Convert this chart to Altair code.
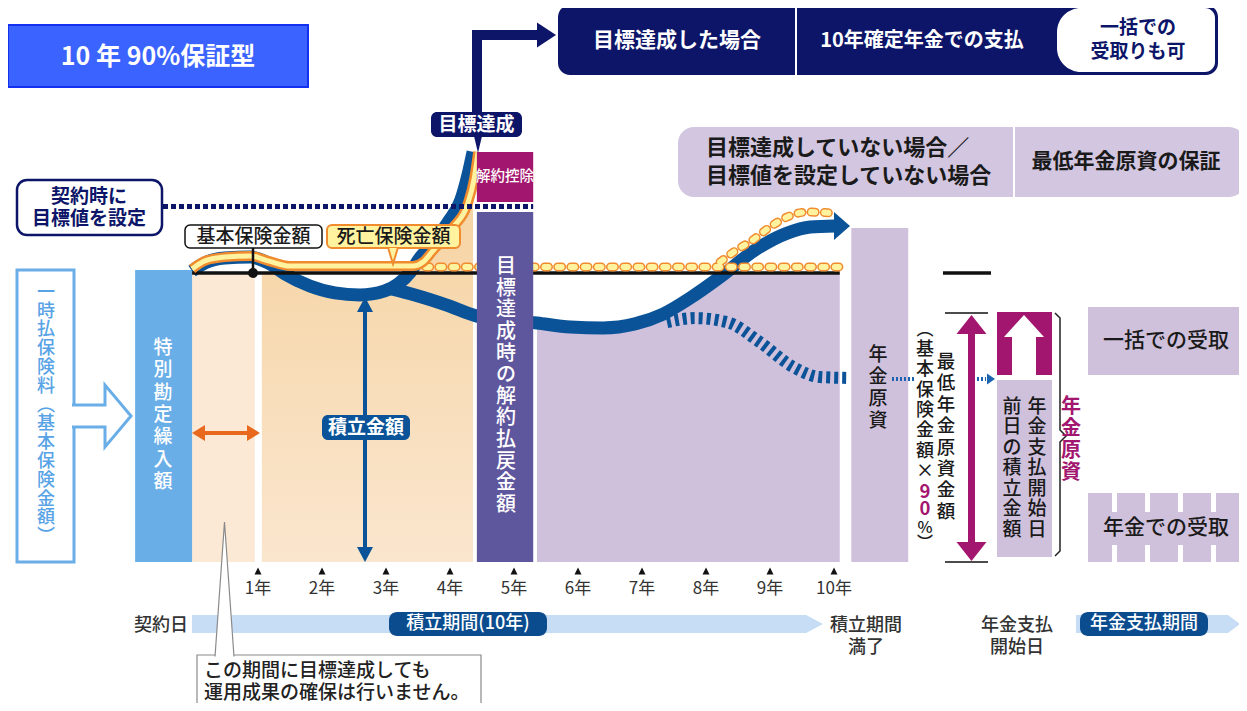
import altair as alt
import pandas as pd

FONT = "Noto Sans CJK JP"

# ---------------- values ----------------
years = list(range(1, 11))
year_labels = [f"{y}年" for y in years]

BASIC = 100.0     # 基本保険金額 (index)
TARGET = 123.0    # 契約時に設定した目標値
CHAIN_LEVEL = 102.1  # 死亡保険金額 (= 基本保険金額) drawn just above the line

# 積立金額: path that reaches the target (year, index)
reach_yr = [-0.03, 0.17, 0.48, 0.88, 1.16, 1.42, 1.81, 2.20, 2.59, 2.98, 3.19, 3.38, 3.53, 3.69, 3.97, 4.17, 4.28, 4.36]
reach_val = [100.7, 103.5, 105.2, 105.5, 103.5, 99.7, 95.5, 93.1, 92.4, 93.8, 96.2, 100.3, 105.2, 109.3, 117.6, 125.3, 133.9, 141.9]

# 死亡保険金額 on the path that reaches the target
death_yr = [-0.03, 0.17, 0.48, 0.88, 1.16, 1.50, 3.42, 3.58, 3.73, 4.05, 4.27, 4.38, 4.44]
death_val = [101.4, 104.2, 105.5, 105.9, 104.2, 102.4, 102.4, 103.8, 107.6, 115.9, 123.5, 132.9, 141.9]

# 積立金額: path that does not reach the target
miss_yr = [3.09, 3.45, 3.95, 4.42, 5.36, 5.88, 6.39, 6.89, 7.33, 7.75, 8.22, 8.77, 9.27, 9.63, 10.02]
miss_val = [94.5, 92.4, 88.9, 85.1, 82.7, 81.3, 81.0, 82.4, 85.8, 91.3, 98.6, 108.0, 113.8, 115.9, 116.3]

# lower (dashed) alternative
low_yr = [7.39, 7.83, 8.33, 8.84, 9.36, 9.78, 10.22]
low_val = [83.0, 84.4, 83.0, 76.1, 67.5, 64.0, 63.7]

# 死亡保険金額 chain, rising branch
chain_flat_yr = [3.62, 10.09]
chain_up_yr = [8.22, 8.48, 8.73, 9.00, 9.27, 9.58, 9.94]
chain_up_val = [103.8, 108.0, 111.4, 115.9, 119.4, 121.1, 120.8]

# shaded periods
peach_yr = [1.06, 3.42, 3.58, 3.73, 4.05, 4.27, 4.36]
peach_val = [100, 100, 103.8, 107.6, 115.9, 123.5, 129.0]
cres_yr = [1.42, 1.81, 2.20, 2.59, 2.98, 3.19, 3.38]
cres_val = [99.7, 95.5, 93.1, 92.4, 93.8, 96.2, 100.3]
lav_yr = [5.36, 5.88, 6.39, 6.89, 7.33, 7.75, 8.22, 8.30, 10.09]
lav_val = [82.7, 81.3, 81.0, 82.4, 85.8, 91.3, 98.6, 100, 100]

# ---------------- colours ----------------
NAVY = "#0d1569"
BLUE = "#0a5398"
LBLUE = "#6aaee8"
PEACH0 = "#fbe9d6"
PEACH_T = "#f6d3a2"
PEACH_B = "#fae6ce"
LAV = "#cfc0dc"
LAV2 = "#d2c6e0"
PURPLE = "#5f579d"
MAGENTA = "#a3166f"
ORANGE = "#f08b2e"
YELLOW = "#fff3a0"
TXT = "#1a1a1a"

# ---------------- layout frame ----------------
X0, XU = 194.0, 64.0
Y0, YU = 562.0, 2.89
def ux(p): return (p - X0) / XU
def uy(p): return (Y0 - p) / YU

XSC = alt.Scale(domain=[ux(8), ux(1239)], nice=False, zero=False)
YSC = alt.Scale(domain=[uy(703), uy(8)], nice=False, zero=False)
XE = alt.X("x:Q", scale=XSC, axis=None)
YE = alt.Y("y:Q", scale=YSC, axis=None)

L = []
def add(c): L.append(c)

def rect_u(x1, x2, y1, y2, **kw):
    df = pd.DataFrame({"x": [x1], "x2": [x2], "y": [y1], "y2": [y2]})
    add(alt.Chart(df).mark_rect(**kw).encode(x=XE, x2="x2:Q", y=YE, y2="y2:Q"))

def rect_p(x1, x2, y1, y2, **kw):
    rect_u(ux(x1), ux(x2), uy(y1), uy(y2), **kw)

def rule_u(x1, y1, x2, y2, **kw):
    df = pd.DataFrame({"x": [x1], "x2": [x2], "y": [y1], "y2": [y2]})
    add(alt.Chart(df).mark_rule(**kw).encode(x=XE, x2="x2:Q", y=YE, y2="y2:Q"))

def rule_p(x1, y1, x2, y2, **kw):
    rule_u(ux(x1), uy(y1), ux(x2), uy(y2), **kw)

def line_u(xs, ys, interp="monotone", **kw):
    df = pd.DataFrame({"x": xs, "y": ys, "i": list(range(len(xs)))})
    add(alt.Chart(df).mark_line(interpolate=interp, **kw).encode(x=XE, y=YE, order="i:Q"))

def line_p(pts, **kw):
    line_u([ux(a) for a, b in pts], [uy(b) for a, b in pts], interp="linear", **kw)

def area_u(xs, ys, base, **kw):
    df = pd.DataFrame({"x": xs, "y": ys, "y2": [base] * len(xs)})
    add(alt.Chart(df).mark_area(interpolate="monotone", **kw).encode(x=XE, y=YE, y2="y2:Q"))

def shape_p(path, px, py, size, fill, stroke=None, sw=0.0):
    kw = dict(shape=path, size=size, filled=True, fill=fill, opacity=1, fillOpacity=1)
    if stroke:
        kw.update(stroke=stroke, strokeWidth=sw, strokeOpacity=1)
    else:
        kw.update(strokeWidth=0)
    df = pd.DataFrame({"x": [ux(px)], "y": [uy(py)]})
    add(alt.Chart(df).mark_point(**kw).encode(x=XE, y=YE))

def tri_path(direction, a, b):
    if direction == "right":
        pts = [(-a, -b), (a, 0), (-a, b)]
    elif direction == "left":
        pts = [(a, -b), (-a, 0), (a, b)]
    elif direction == "up":
        pts = [(-a, b), (0, -b), (a, b)]
    else:
        pts = [(-a, -b), (0, b), (a, -b)]
    return "M" + "L".join(f"{x:.3f},{y:.3f}" for x, y in pts) + "Z"

def tri_p(direction, tx, ty, w, h, color):
    m = max(w, h)
    a, b = w / m, h / m
    cx, cy = tx, ty
    if direction == "right": cx = tx - w / 2
    if direction == "left": cx = tx + w / 2
    if direction == "up": cy = ty + h / 2
    if direction == "down": cy = ty - h / 2
    shape_p(tri_path(direction, a, b), cx, cy, m * m, color)

def text_p(s, px, py, size=18, color=TXT, align="center", weight=500,
           vertical=False, lh=None, baseline="middle"):
    if vertical:
        s = "\n".join(list(s))
    mk = dict(font=FONT, fontSize=size, color=color, align=align,
              baseline=baseline, fontWeight=weight)
    if "\n" in s:
        lh = lh or size * 1.2
        mk.update(lineBreak="\n", lineHeight=lh)
        n = s.count("\n")
        py = py - n * lh / 2.0   # py is the centre of the whole block
    df = pd.DataFrame({"x": [ux(px)], "y": [uy(py)], "t": [s]})
    add(alt.Chart(df).mark_text(**mk).encode(x=XE, y=YE, text="t:N"))

# ---------------- background shading ----------------
rect_u(-0.03, 0.95, 0, BASIC, fill=PEACH0)
area_u(peach_yr, peach_val, 0,
       color=alt.Gradient(gradient="linear",
                          stops=[alt.GradientStop(color=PEACH_T, offset=0),
                                 alt.GradientStop(color=PEACH_B, offset=1)],
                          x1=0, x2=0, y1=0, y2=1))
area_u(cres_yr, cres_val, BASIC, color="white")
area_u(lav_yr, lav_val, 0, color=LAV)

# ---------------- left: premium box and special account bar ----------------
rect_p(17, 74, 270, 562, fill="white", stroke=LBLUE, strokeWidth=3)
arrow_path = ("M-0.952,-0.355L0.113,-0.355L0.113,-1L0.952,0L0.113,1"
              "L0.113,0.355L-0.952,0.355")
shape_p(arrow_path, 101.5, 416, 3844, "white", stroke=LBLUE, sw=3)
text_p("一時払保険料︵基本保険金額︶", 46, 415, size=18, color="#58a3e6", vertical=True, lh=18.8)
rect_u(-0.92, -0.03, 0, 101.0, fill=LBLUE)
text_p("特別勘定繰入額", 163, 415, size=19, color="white", vertical=True, lh=22.3)

# ---------------- accumulation curves ----------------
line_u(reach_yr, reach_val, color=BLUE, strokeWidth=13)
line_u(miss_yr, miss_val, color=BLUE, strokeWidth=13)
tri_p("right", 850, 226, 16, 28, BLUE)
line_u(low_yr, low_val, color=BLUE, strokeWidth=12, strokeDash=[4, 4])

# 基本保険金額 line
rule_u(-0.03, BASIC, 10.09, BASIC, color="#111111", strokeWidth=3.5)

# 死亡保険金額 chains
for w, c in ((9, ORANGE), (6, YELLOW)):
    line_u(chain_flat_yr, [CHAIN_LEVEL] * 2, interp="linear", color=c, strokeWidth=w,
           strokeCap="round", strokeDash=[4, 9.2])
    line_u(chain_up_yr, chain_up_val, color=c, strokeWidth=w,
           strokeCap="round", strokeDash=[4, 9.2])
# 死亡保険金額 band on the target-reaching path
line_u(death_yr, death_val, color=ORANGE, strokeWidth=10)
line_u(death_yr, death_val, color=YELLOW, strokeWidth=5)

# ---------------- bars ----------------
rect_u(4.42, 5.30, 0, 121.1, fill=PURPLE)
rect_u(4.42, 5.30, 124.6, 141.9, fill=MAGENTA)
text_p("解約控除", 505, 177, size=14.5, color="white")
text_p("目標達成時の解約払戻金額", 506, 386, size=20, color="white", vertical=True, lh=21.6)
rect_u(10.27, 11.16, 0, 115.6, fill=LAV)
text_p("年金原資", 878, 388, size=19, vertical=True, lh=22.3)

# target line
rule_u(ux(163), TARGET, 5.30, TARGET, color=NAVY, strokeWidth=5, strokeDash=[5, 3])

# ---------------- labels on the curves ----------------
rect_p(185, 322, 225, 248, fill="white", stroke="#111111", strokeWidth=1.5, cornerRadius=5)
text_p("基本保険金額", 253.5, 237, size=19)
rule_p(253, 248, 253, 272, color="#111111", strokeWidth=2.5)
df_dot = pd.DataFrame({"x": [ux(253)], "y": [BASIC]})
add(alt.Chart(df_dot).mark_point(shape="circle", size=100, filled=True, color="#111111",
                                 opacity=1).encode(x=XE, y=YE))
rect_p(327, 460, 225, 248, fill=YELLOW, stroke=ORANGE, strokeWidth=2, cornerRadius=5)
text_p("死亡保険金額", 393.5, 237, size=19)
shape_p("M-0.6,-1L0,1L0.6,-1", 393, 256, 256, YELLOW, stroke=ORANGE, sw=2)

# 契約時に目標値を設定
rect_p(17, 162, 180, 235, fill="white", stroke=NAVY, strokeWidth=2.5, cornerRadius=10)
text_p("契約時に", 89, 197, size=19, color=NAVY, weight="bold")
text_p("目標値を設定", 89, 219, size=19, color=NAVY, weight="bold")

# 目標達成 label + arrow to top box
rect_p(472, 482, 30, 113, fill=NAVY)
rect_p(472, 538, 30, 40, fill=NAVY)
tri_p("right", 556, 35, 19, 25, NAVY)
rect_p(431, 522, 112, 137, fill=NAVY, cornerRadius=6)
text_p("目標達成", 476.5, 125, size=19, color="white", weight="bold")
tri_p("down", 478, 153, 8, 17, NAVY)

# orange double arrow (year 0-1)
rule_p(203, 433, 249, 433, color="#e8691e", strokeWidth=4)
tri_p("left", 192, 433, 13, 16, "#e8691e")
tri_p("right", 260, 433, 13, 16, "#e8691e")

# 積立金額 double arrow
rule_p(365, 308, 365, 550, color=BLUE, strokeWidth=4)
tri_p("up", 365, 297, 16, 15, BLUE)
tri_p("down", 365, 562, 16, 15, BLUE)
rect_p(322, 410, 415, 440, fill=BLUE, cornerRadius=6)
text_p("積立金額", 366, 427.5, size=19, color="white", weight="bold")

# ---------------- top boxes ----------------
rect_p(8, 308, 25, 87, fill="#3a63ff", stroke="#1430f0", strokeWidth=2)
text_p("10 年 90%保証型", 158, 57, size=25, color="white", weight="bold")

rect_p(558, 1218, 5, 75, fill=NAVY, cornerRadius=12)
rule_p(796, 5, 796, 75, color="white", strokeWidth=2)
rect_p(1057, 1215, 8, 72, fill="white", cornerRadiusTopLeft=24, cornerRadiusBottomLeft=24,
       cornerRadiusTopRight=10, cornerRadiusBottomRight=10)
text_p("目標達成した場合", 677, 41, size=21, color="white", weight="bold")
text_p("10年確定年金での支払", 922, 41, size=20, color="white", weight="bold")
text_p("一括での", 1138, 28, size=19, color=NAVY, weight="bold")
text_p("受取りも可", 1138, 52, size=19, color=NAVY, weight="bold")

rect_p(678, 1245, 127, 197, fill=LAV2, cornerRadius=16)
rule_p(1014, 127, 1014, 197, color="white", strokeWidth=2)
text_p("目標達成していない場合／", 706, 148, size=22, align="left", weight="bold")
text_p("目標値を設定していない場合", 706, 176, size=22, align="left", weight="bold")
text_p("最低年金原資の保証", 1126, 162, size=21, weight="bold")

# ---------------- right: pension fund ----------------
rule_p(892, 379, 914, 379, color="#1b63b0", strokeWidth=4, strokeDash=[2, 2])
rule_p(977, 379, 986, 379, color="#1b63b0", strokeWidth=4, strokeDash=[2, 2])
tri_p("right", 995, 379, 8, 11, "#1b63b0")

rule_p(943, 273, 991, 273, color="#111111", strokeWidth=3.5)
rule_p(945, 313, 988, 313, color="#111111", strokeWidth=1.5)
rule_p(945, 562, 988, 562, color="#111111", strokeWidth=1.5)
rect_p(968, 975, 330, 546, fill=MAGENTA)
tri_p("up", 971.5, 315, 30, 19, MAGENTA)
tri_p("down", 971.5, 561, 30, 19, MAGENTA)

text_p("最低年金原資金額", 946, 437, size=18.5, vertical=True, lh=21.4)
text_p("︵", 925, 330, size=17)
text_p("基本保険金額×", 925, 411, size=18, vertical=True, lh=20.3)
text_p("9\n0", 925, 500, size=18.5, color=MAGENTA, weight="bold", lh=17)
text_p("%", 925, 527.5, size=16)
text_p("︶", 925, 543, size=16)

rect_p(997, 1052, 312, 375, fill=MAGENTA)
rect_p(1012, 1036, 336, 375, fill="white")
tri_p("up", 1024, 315, 40, 22, "white")
rect_p(997, 1052, 380, 557, fill=LAV)
text_p("年金支払開始日", 1037, 468, size=19, vertical=True, lh=20.5)
text_p("前日の積立金額", 1012, 468, size=19, vertical=True, lh=20.5)
line_p([(1055, 313), (1060, 318), (1060, 430), (1066, 436), (1060, 442), (1060, 551), (1055, 556)],
       color="#222222", strokeWidth=1.5)
text_p("年金原資", 1071, 440, size=20, color=MAGENTA, weight="bold", vertical=True, lh=22)

rect_p(1088, 1245, 307, 375, fill=LAV)
text_p("一括での受取", 1166, 341, size=21)
for a, b in ((1088, 1112), (1117, 1145), (1150, 1178), (1183, 1211), (1216, 1245)):
    rect_p(a, b, 493, 562, fill=LAV)
rect_p(1088, 1245, 512, 545, fill=LAV)
text_p("年金での受取", 1166, 528, size=21)

# ---------------- timeline ----------------
df_ticks = pd.DataFrame({"x": years, "y": [uy(571)] * len(years), "t": year_labels})
add(alt.Chart(df_ticks).mark_point(shape="M-1,1L0,-1L1,1Z", size=49, filled=True,
                                   color="#111111", opacity=1).encode(x=XE, y=YE))
df_lab = pd.DataFrame({"x": years, "y": [uy(589)] * len(years), "t": year_labels})
add(alt.Chart(df_lab).mark_text(font=FONT, fontSize=17, color="#333333").encode(
    x=XE, y=YE, text="t:N"))

rect_p(192, 806, 615, 633, fill="#c6ddf5")
tri_p("right", 823, 624, 17, 18, "#c6ddf5")
rect_p(389, 547, 612, 636, fill="#0b4c8f", cornerRadius=8)
text_p("積立期間(10年)", 468, 624, size=18, color="white")
text_p("契約日", 188, 626, size=18, color="#333333", align="right")
text_p("積立期間", 866, 626, size=18, color="#333333")
text_p("満了", 866, 648, size=18, color="#333333")
text_p("年金支払", 1017, 626, size=18, color="#333333")
text_p("開始日", 1017, 648, size=18, color="#333333")
rect_p(1076, 1228, 615, 633, fill="#c6ddf5")
tri_p("right", 1240, 624, 12, 18, "#c6ddf5")
rect_p(1080, 1208, 612, 636, fill="#0b4c8f", cornerRadius=8)
text_p("年金支払期間", 1144, 624, size=18, color="white")

# callout
rect_p(197, 481, 655, 720, fill="white", stroke="#8a8a8a", strokeWidth=1.2)
shape_p("M-0.141,1L0,-1L0.141,1", 224.5, 589.25, 134.5 * 134.5, "white", stroke="#8a8a8a", sw=1.2)
text_p("この期間に目標達成しても", 204, 671, size=19, align="left", color="#222222")
text_p("運用成果の確保は行いません。", 204, 693, size=19, align="left", color="#222222")

chart = alt.layer(*L).properties(
    width=1231, height=695, padding=0,
    autosize=alt.AutoSizeParams(type="none"),
    background="white",
).configure_view(stroke=None)

chart.save("out.html", embed_options={"renderer": "svg", "actions": False})
